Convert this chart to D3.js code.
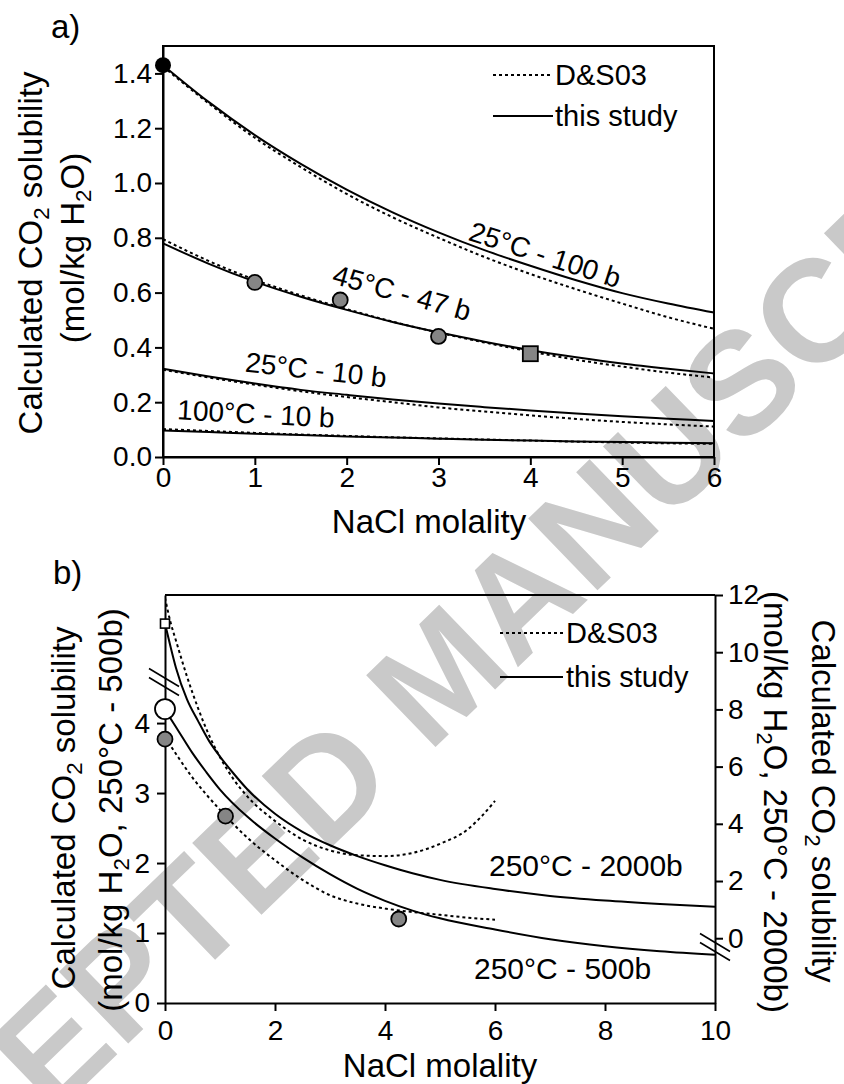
<!DOCTYPE html>
<html><head><meta charset="utf-8">
<script src="https://cdn.jsdelivr.net/npm/d3@7"></script>
<style>body{margin:0;background:#fff} svg{display:block} text{font-family:"Liberation Sans",Arial,sans-serif;fill:#000}</style>
</head><body><svg id="c" width="844" height="1084"></svg>
<script>
// ---------- Panel a data (NaCl molality vs CO2 solubility, mol/kg H2O) ----------
const xA = [0,0.5,1,1.5,2,2.5,3,3.5,4,4.5,5,5.5,6];
const a25_100_this = [1.43,1.295,1.175,1.07,0.976,0.893,0.82,0.755,0.698,0.645,0.598,0.56,0.527];
const a25_100_ds   = [1.425,1.29,1.165,1.058,0.96,0.875,0.80,0.73,0.668,0.612,0.56,0.51,0.468];
const a45_47_this  = [0.78,0.705,0.64,0.585,0.537,0.493,0.455,0.421,0.39,0.364,0.341,0.322,0.305];
const a45_47_ds    = [0.795,0.715,0.647,0.59,0.54,0.494,0.454,0.418,0.385,0.355,0.33,0.308,0.29];
const a25_10_this  = [0.322,0.294,0.268,0.245,0.227,0.21,0.195,0.182,0.17,0.159,0.149,0.14,0.131];
const a25_10_ds    = [0.318,0.29,0.264,0.24,0.219,0.2,0.181,0.166,0.152,0.139,0.128,0.119,0.111];
const a100_10_this = [0.097,0.091,0.085,0.08,0.075,0.071,0.067,0.063,0.06,0.057,0.055,0.052,0.05];
const a100_10_ds   = [0.102,0.095,0.088,0.082,0.077,0.072,0.068,0.064,0.06,0.056,0.053,0.05,0.048];
const aPureX = [0], aPureY = [1.43];                 // black dot
const aExpX = [1,1.93,3], aExpY = [0.637,0.573,0.44]; // grey circles
const aSqX = [4], aSqY = [0.377];                    // grey square
const aXTicks = [0,1,2,3,4,5,6];
const aYTicks = [0,0.2,0.4,0.6,0.8,1.0,1.2,1.4];
const aCurveLabels = ["25°C - 100 b","45°C - 47 b","25°C - 10 b","100°C - 10 b"];

// ---------- Panel b data ----------
const xB500this = [0,0.25,0.5,0.75,1,1.5,2,2.5,3,3.5,4,4.5,5,6,7,8,9,10];
const b500_this = [4.19,3.88,3.57,3.3,3.05,2.66,2.35,2.08,1.84,1.63,1.46,1.32,1.21,1.05,0.91,0.81,0.74,0.69];
const xB500ds   = [0,0.25,0.5,0.75,1,1.5,2,2.5,3,3.5,4,4.5,5,5.5,6];
const b500_ds   = [3.8,3.5,3.22,2.98,2.76,2.36,2.04,1.76,1.54,1.42,1.35,1.3,1.26,1.22,1.19];
const xB2000this = [0,0.1,0.2,0.4,0.6,0.8,1,1.25,1.5,2,2.5,3,3.5,4,4.5,5,6,7,8,9,10];
const b2000_this = [11.0,10.2,9.45,8.35,7.6,6.9,6.35,5.75,5.2,4.35,3.72,3.25,2.87,2.55,2.27,2.04,1.72,1.48,1.32,1.2,1.1];
const xB2000ds   = [0,0.1,0.2,0.4,0.6,0.8,1,1.25,1.5,2,2.5,3,3.5,4,4.5,5,5.5,5.75,6];
const b2000_ds   = [11.9,11.05,10.4,9.15,8.05,7.1,6.33,5.55,4.95,4.1,3.45,3.07,2.9,2.87,2.98,3.3,3.8,4.25,4.8];
const bExpX = [0,1.1,4.25], bExpY = [3.77,2.67,1.2];   // grey circles (left axis)
const bOpenCircX = [0], bOpenCircY = [4.2];          // white circle (left axis)
const bOpenSqX = [0], bOpenSqY = [11.0];             // white square (right axis)
const bXTicks = [0,2,4,6,8,10];
const bYLeftTicks = [0,1,2,3,4];
const bYRightTicks = [0,2,4,6,8,10,12];
const legendLabels = ["D&S03","this study"];

// ---------- drawing ----------
const svg = d3.select("#c");
svg.append("rect").attr("width",844).attr("height",1084).attr("fill","#fff");

// watermark
svg.append("text").text("ACCEPTED MANUSCRIPT")
  .attr("transform","translate(440,673) rotate(-44)")
  .attr("text-anchor","middle").attr("dominant-baseline","central")
  .attr("font-size",145).attr("font-weight","bold").style("fill","#c9c9c9");

const FONT = '"Liberation Sans",Arial,sans-serif';
const DASH = "3,3";

function styleAxis(g, fs){
  g.attr("font-family",FONT).attr("font-size",fs);
  g.selectAll("path.domain").attr("stroke","#000").attr("stroke-width",2);
  g.selectAll(".tick line").attr("stroke","#000").attr("stroke-width",2);
  g.selectAll(".tick text").style("fill","#000");
}
function subText(sel, parts){ // parts: [text, isSub, shiftBack]
  parts.forEach(p=>{
    if(p[1]){ sel.append("tspan").attr("dy",7).attr("font-size","0.68em").text(p[0]); }
    else { const t = sel.append("tspan").text(p[0]); if(p[2]) t.attr("dy",-7); }
  });
}

// ---- Panel a ----
const xa = d3.scaleLinear().domain([0,6]).range([163,714]);
const ya = d3.scaleLinear().domain([0,1.5]).range([457,46]);
const ga = svg.append("g");
ga.append("rect").attr("x",xa(0)).attr("y",ya(1.5)).attr("width",xa(6)-xa(0)).attr("height",ya(0)-ya(1.5))
  .attr("fill","none").attr("stroke","#000").attr("stroke-width",2);
styleAxis(ga.append("g").attr("transform",`translate(${xa(0)},0)`)
  .call(d3.axisLeft(ya).tickValues(aYTicks).tickFormat(d3.format(".1f")).tickSize(8).tickSizeOuter(0).tickPadding(3)),28);
styleAxis(ga.append("g").attr("transform",`translate(0,${ya(0)})`)
  .call(d3.axisBottom(xa).tickValues(aXTicks).tickFormat(d3.format("d")).tickSize(8).tickSizeOuter(0).tickPadding(2)),28);

const lineA = (ys)=> d3.line().x((d,i)=>xa(xA[i])).y(d=>ya(d)).curve(d3.curveMonotoneX)(ys);
[[a25_100_ds,a25_100_this],[a45_47_ds,a45_47_this],[a25_10_ds,a25_10_this],[a100_10_ds,a100_10_this]].forEach(pair=>{
  ga.append("path").attr("d",lineA(pair[0])).attr("fill","none").attr("stroke","#000").attr("stroke-width",2).attr("stroke-dasharray",DASH);
  ga.append("path").attr("d",lineA(pair[1])).attr("fill","none").attr("stroke","#000").attr("stroke-width",2);
});
// markers a
ga.selectAll("c.exp").data(aExpX).enter().append("circle")
  .attr("cx",d=>xa(d)).attr("cy",(d,i)=>ya(aExpY[i])).attr("r",7.5).attr("fill","#858585").attr("stroke","#000").attr("stroke-width",1.8);
ga.selectAll("r.sq").data(aSqX).enter().append("rect")
  .attr("x",d=>xa(d)-7.5).attr("y",(d,i)=>ya(aSqY[i])-7.5).attr("width",15).attr("height",15).attr("fill","#858585").attr("stroke","#000").attr("stroke-width",1.8);
ga.selectAll("c.pure").data(aPureX).enter().append("circle")
  .attr("cx",d=>xa(d)).attr("cy",(d,i)=>ya(aPureY[i])).attr("r",8).attr("fill","#000");

// curve labels a
const aLabPos = [[545,255,18],[402,293,15.5],[316,370,6.5],[256,414,3]];
aCurveLabels.forEach((t,i)=>{
  ga.append("text").text(t).attr("font-size",28).attr("text-anchor","middle").attr("dominant-baseline","central")
    .attr("transform",`translate(${aLabPos[i][0]},${aLabPos[i][1]}) rotate(${aLabPos[i][2]})`);
});
// legend a
ga.append("line").attr("x1",493).attr("x2",553).attr("y1",75).attr("y2",75).attr("stroke","#000").attr("stroke-width",2).attr("stroke-dasharray",DASH);
ga.append("line").attr("x1",493).attr("x2",553).attr("y1",116).attr("y2",116).attr("stroke","#000").attr("stroke-width",2);
ga.append("text").text(legendLabels[0]).attr("x",555).attr("y",75).attr("dominant-baseline","central").attr("font-size",29);
ga.append("text").text(legendLabels[1]).attr("x",555).attr("y",116).attr("dominant-baseline","central").attr("font-size",29);
// titles a
ga.append("text").text("a)").attr("x",51).attr("y",38).attr("font-size",33);
ga.append("text").text("NaCl molality").attr("x",429).attr("y",533).attr("text-anchor","middle").attr("font-size",33);
subText(ga.append("text").attr("text-anchor","middle").attr("font-size",33).attr("transform","translate(42,253) rotate(-90)"),
  [["Calculated CO"],["2",true],[" solubility",false,true]]);
subText(ga.append("text").attr("text-anchor","middle").attr("font-size",33).attr("transform","translate(84,248) rotate(-90)"),
  [["(mol/kg H"],["2",true],["O)",false,true]]);

// ---- Panel b ----
const xb = d3.scaleLinear().domain([0,10]).range([165,715]);
const ybL = d3.scaleLinear().domain([0,5.83]).range([1003,595]);
const ybR = d3.scaleLinear().domain([-2.265,12]).range([1003,595]);
const gb = svg.append("g");
svg.append("defs").append("clipPath").attr("id","clipb").append("rect").attr("x",165).attr("y",595).attr("width",550).attr("height",408);
gb.append("line").attr("x1",xb(0)).attr("x2",xb(10)).attr("y1",595).attr("y2",595).attr("stroke","#000").attr("stroke-width",2);
styleAxis(gb.append("g").attr("transform",`translate(${xb(0)},0)`)
  .call(d3.axisLeft(ybL).tickValues(bYLeftTicks).tickFormat(d3.format("d")).tickSize(8).tickSizeOuter(0).tickPadding(7)),28);
styleAxis(gb.append("g").attr("transform",`translate(${xb(10)},0)`)
  .call(d3.axisRight(ybR).tickValues(bYRightTicks).tickFormat(d3.format("d")).tickSize(8).tickSizeOuter(0).tickPadding(5)),28);
styleAxis(gb.append("g").attr("transform",`translate(0,${ybL(0)})`)
  .call(d3.axisBottom(xb).tickValues(bXTicks).tickFormat(d3.format("d")).tickSize(8).tickSizeOuter(0).tickPadding(9)),28);

const cb = gb.append("g").attr("clip-path","url(#clipb)");
const lineB = (xs,ys,sc)=> d3.line().x((d,i)=>xb(xs[i])).y(d=>sc(d)).curve(d3.curveMonotoneX)(ys);
cb.append("path").attr("d",lineB(xB2000ds,b2000_ds,ybR)).attr("fill","none").attr("stroke","#000").attr("stroke-width",2).attr("stroke-dasharray",DASH);
cb.append("path").attr("d",lineB(xB2000this,b2000_this,ybR)).attr("fill","none").attr("stroke","#000").attr("stroke-width",2);
cb.append("path").attr("d",lineB(xB500ds,b500_ds,ybL)).attr("fill","none").attr("stroke","#000").attr("stroke-width",2).attr("stroke-dasharray",DASH);
cb.append("path").attr("d",lineB(xB500this,b500_this,ybL)).attr("fill","none").attr("stroke","#000").attr("stroke-width",2);

// break marks
[[164,682],[715,947]].forEach(c=>{
  [-4.5,4.5].forEach(o=>{
    gb.append("line").attr("x1",c[0]-15).attr("y1",c[1]-9+o).attr("x2",c[0]+15).attr("y2",c[1]+9+o).attr("stroke","#000").attr("stroke-width",1.6);
  });
});

// markers b
gb.selectAll("c.bexp").data(bExpX).enter().append("circle")
  .attr("cx",d=>xb(d)).attr("cy",(d,i)=>ybL(bExpY[i])).attr("r",7.5).attr("fill","#858585").attr("stroke","#000").attr("stroke-width",1.8);
gb.selectAll("c.bopen").data(bOpenCircX).enter().append("circle")
  .attr("cx",d=>xb(d)).attr("cy",(d,i)=>ybL(bOpenCircY[i])).attr("r",10).attr("fill","#fff").attr("stroke","#000").attr("stroke-width",1.8);
gb.selectAll("r.bsq").data(bOpenSqX).enter().append("rect")
  .attr("x",d=>xb(d)-4.5).attr("y",(d,i)=>ybR(bOpenSqY[i])-4.5).attr("width",9).attr("height",9).attr("fill","#fff").attr("stroke","#000").attr("stroke-width",1.6);

// legend b
gb.append("line").attr("x1",500).attr("x2",563).attr("y1",633).attr("y2",633).attr("stroke","#000").attr("stroke-width",2).attr("stroke-dasharray",DASH);
gb.append("line").attr("x1",500).attr("x2",563).attr("y1",677).attr("y2",677).attr("stroke","#000").attr("stroke-width",2);
gb.append("text").text(legendLabels[0]).attr("x",566).attr("y",633).attr("dominant-baseline","central").attr("font-size",29);
gb.append("text").text(legendLabels[1]).attr("x",566).attr("y",677).attr("dominant-baseline","central").attr("font-size",29);
// curve labels b
gb.append("text").text("250°C - 2000b").attr("x",489).attr("y",876).attr("font-size",30);
gb.append("text").text("250°C - 500b").attr("x",474).attr("y",979).attr("font-size",30);
// titles b
gb.append("text").text("b)").attr("x",53).attr("y",584).attr("font-size",33);
gb.append("text").text("NaCl molality").attr("x",440).attr("y",1077).attr("text-anchor","middle").attr("font-size",33);
subText(gb.append("text").attr("text-anchor","middle").attr("font-size",33).attr("transform","translate(75,808) rotate(-90)"),
  [["Calculated CO"],["2",true],[" solubility",false,true]]);
subText(gb.append("text").attr("text-anchor","middle").attr("font-size",33).attr("transform","translate(122,810) rotate(-90)"),
  [["(mol/kg H"],["2",true],["O, 250°C - 500b)",false,true]]);
subText(gb.append("text").attr("text-anchor","middle").attr("font-size",33).attr("transform","translate(812,801) rotate(90)"),
  [["Calculated CO"],["2",true],[" solubility",false,true]]);
subText(gb.append("text").attr("text-anchor","middle").attr("font-size",33).attr("transform","translate(764,802) rotate(90)"),
  [["(mol/kg H"],["2",true],["O, 250°C - 2000b)",false,true]]);
</script></body></html>
